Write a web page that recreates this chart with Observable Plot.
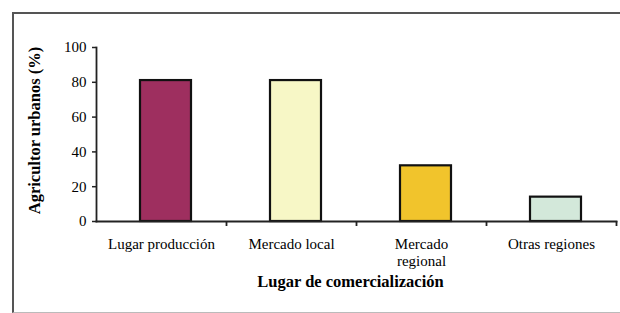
<!DOCTYPE html>
<html>
<head>
<meta charset="utf-8">
<script src="https://cdn.jsdelivr.net/npm/d3@7"></script>
<script src="https://cdn.jsdelivr.net/npm/@observablehq/plot@0.6"></script>
<style>
  html, body { margin: 0; padding: 0; background: #fff; }
  #wrap { position: relative; width: 620px; height: 313px; overflow: hidden; }
  #frame { position: absolute; left: 12px; top: 12px; width: 620px; height: 298px;
           border-left: 2px solid #555; border-top: 2px solid #555; border-bottom: 1px solid #bbb; }
  #chart { position: absolute; left: 0; top: 0; }
</style>
</head>
<body>
<div id="wrap"><div id="frame"></div><div id="chart"></div></div>
<script>
const categories = ["Lugar producción", "Mercado local", "Mercado\nregional", "Otras regiones"];
const values = [81, 81, 32, 14];
const colors = ["#9e2f5f", "#f7f7c6", "#f1c42c", "#d3e8da"];
const yTicks = [0, 20, 40, 60, 80, 100];
const xLabel = "Lugar de comercialización";
const yLabel = "Agricultor urbanos (%)";

const data = categories.map((c, i) => ({cat: c, value: values[i], color: colors[i]}));

const chart = Plot.plot({
  width: 620,
  height: 313,
  marginLeft: 96,
  marginRight: 4,
  marginTop: 47,
  marginBottom: 92,
  style: {fontFamily: "Liberation Serif", fontSize: "15px", color: "#000", background: "transparent", overflow: "visible"},
  x: {domain: categories, padding: 0},
  y: {domain: [0, 100]},
  marks: [
    Plot.barY(data, {x: "cat", y: "value", fill: "color", stroke: "#111", strokeWidth: 2.2, insetLeft: 44, insetRight: 35}),
    Plot.frame({anchor: "left", stroke: "#222", strokeWidth: 1.8}),
    Plot.frame({anchor: "bottom", stroke: "#222", strokeWidth: 1.8}),
    Plot.axisX({tickSize: 5, tickFormat: null, dx: 65, stroke: "#222", strokeWidth: 1.8, label: null}),
    Plot.axisY({ticks: yTicks, tickSize: 4, tickPadding: 6, stroke: "#222", strokeWidth: 1.5, label: null, fontSize: 15}),
    Plot.axisX({tickSize: 0, tickPadding: 16, label: null, lineHeight: 1.12, fontSize: 15}),
    Plot.text([xLabel], {frameAnchor: "bottom", dy: 65, dx: -6, fontWeight: "bold", fontSize: 16.5}),
    Plot.text([yLabel], {frameAnchor: "left", dx: -62, dy: -4, rotate: -90, textAnchor: "middle", fontWeight: "bold", fontSize: 16.5})
  ]
});
document.getElementById("chart").appendChild(chart);
</script>
</body>
</html>
